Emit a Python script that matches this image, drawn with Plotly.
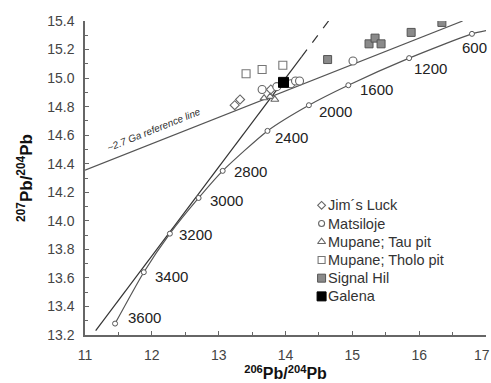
import plotly.graph_objects as go

# Pb growth curve: model ages (Ma) and their 206Pb/204Pb, 207Pb/204Pb values
growth_age = [3600, 3400, 3200, 3000, 2800, 2400, 2000, 1600, 1200, 600]
growth_x = [11.45, 11.88, 12.27, 12.70, 13.06, 13.73, 14.35, 14.94, 15.85, 16.79]
growth_y = [13.28, 13.64, 13.91, 14.16, 14.35, 14.63, 14.81, 14.95, 15.14, 15.31]
# where the curve leaves the plot on the right
growth_end_x = 17.08
growth_end_y = 15.34

# ~2.7 Ga reference line (end points)
ref_x = [11.0, 16.65]
ref_y = [14.355, 15.40]

# steep regression line (end points)
steep_x = [11.16, 14.66]
steep_y = [13.23, 15.41]

# samples
jims_x = [13.24, 13.32, 13.78]
jims_y = [14.81, 14.85, 14.92]

mats_x = [13.65, 13.87, 14.08, 14.15, 14.21, 15.01]
mats_y = [14.92, 14.94, 14.96, 14.98, 14.98, 15.12]

tau_x = [13.68, 13.77, 13.84]
tau_y = [14.86, 14.87, 14.85]

tholo_x = [13.41, 13.65, 13.96]
tholo_y = [15.03, 15.06, 15.09]

signal_x = [14.63, 15.25, 15.34, 15.43, 15.88, 16.34]
signal_y = [15.13, 15.24, 15.28, 15.24, 15.32, 15.39]

galena_x = [13.97]
galena_y = [14.97]

x_ticks = [11, 12, 13, 14, 15, 16, 17]
y_ticks = [13.2, 13.4, 13.6, 13.8, 14.0, 14.2, 14.4, 14.6, 14.8, 15.0, 15.2, 15.4]

FONT = "Liberation Sans, Arial, sans-serif"
LINE = "#555555"
MARK = "#666666"
TICKFONT = dict(family=FONT, size=14, color="#444444")

fig = go.Figure()

# reference line
fig.add_trace(go.Scatter(x=ref_x, y=ref_y, mode="lines",
                         line=dict(color=LINE, width=1.2), showlegend=False,
                         hoverinfo="skip"))

# steep line: solid lower part, dashed near the top
split = 0.88
sx_mid = steep_x[0] + split * (steep_x[1] - steep_x[0])
sy_mid = steep_y[0] + split * (steep_y[1] - steep_y[0])
fig.add_trace(go.Scatter(x=[steep_x[0], sx_mid], y=[steep_y[0], sy_mid], mode="lines",
                         line=dict(color="#333333", width=1.2), showlegend=False,
                         hoverinfo="skip"))
fig.add_trace(go.Scatter(x=[sx_mid, steep_x[1]], y=[sy_mid, steep_y[1]], mode="lines",
                         line=dict(color="#333333", width=1.2, dash="dash"),
                         showlegend=False, hoverinfo="skip"))

# growth curve
fig.add_trace(go.Scatter(x=growth_x + [growth_end_x], y=growth_y + [growth_end_y],
                         mode="lines", line=dict(color=LINE, width=1.2, shape="spline",
                                                 smoothing=0.6),
                         showlegend=False, hoverinfo="skip"))
fig.add_trace(go.Scatter(x=growth_x, y=growth_y, mode="markers",
                         marker=dict(symbol="circle", size=5, color="white",
                                     line=dict(color=LINE, width=1)),
                         showlegend=False))

# age labels beside the curve markers (pixel offsets of each label)
label_dx = [11, 9, 7, 9, 9, 6, 8, 10, 3, -12]
label_dy = [6, -4, -1, -3, -1, -7, -6, -4, -10, -14]
for a, gx, gy, dx, dy in zip(growth_age, growth_x, growth_y, label_dx, label_dy):
    fig.add_annotation(x=gx, y=gy, text=str(a), showarrow=False,
                       xanchor="left", yanchor="middle", xshift=dx, yshift=dy,
                       font=dict(family=FONT, size=15, color="#222222"))

fig.add_annotation(x=12.03, y=14.64, text="<i>~2.7 Ga reference line</i>",
                   showarrow=False, textangle=-22,
                   font=dict(family=FONT, size=10, color="#333333"))

# sample groups
groups = [
    ("Jim´s Luck", jims_x, jims_y,
     dict(symbol="diamond", size=7, color="white", line=dict(color=MARK, width=1.1))),
    ("Matsiloje", mats_x, mats_y,
     dict(symbol="circle", size=8, color="white", line=dict(color=MARK, width=1.1))),
    ("Mupane; Tau pit", tau_x, tau_y,
     dict(symbol="triangle-up", size=7, color="white", line=dict(color=MARK, width=1.1))),
    ("Mupane; Tholo pit", tholo_x, tholo_y,
     dict(symbol="square", size=8, color="white", line=dict(color="#777777", width=1.1))),
    ("Signal Hil", signal_x, signal_y,
     dict(symbol="square", size=8, color="#8a8a8a", line=dict(color="#555555", width=1))),
    ("Galena", galena_x, galena_y,
     dict(symbol="square", size=10, color="black", line=dict(color="black", width=1))),
]
for name, gx, gy, mk in groups:
    fig.add_trace(go.Scatter(x=gx, y=gy, mode="markers", name=name, marker=mk,
                             showlegend=False))

# key: symbols on an overlay axis spanning the plot area, text as annotations
key_x = 0.590
text_x = 0.601
row0 = 0.413
step = 0.058
legend_sizes = [6, 6, 7, 7, 8, 9]
for i, (name, gx, gy, mk) in enumerate(groups):
    ky = row0 - i * step
    km = dict(mk)
    km["size"] = legend_sizes[i]
    fig.add_trace(go.Scatter(x=[key_x], y=[ky], mode="markers", marker=km,
                             xaxis="x2", yaxis="y2", showlegend=False,
                             hoverinfo="skip"))
    fig.add_annotation(x=text_x, y=ky, xref="paper", yref="paper", text=name,
                       showarrow=False, xanchor="left", yanchor="middle",
                       font=dict(family=FONT, size=14.5, color="#333333"))

# the last x tick label sits at the page edge, so it is placed as an annotation
# nudged inward to stay on the page
x_ticktext = [str(v) for v in x_ticks]
last_label = x_ticktext[-1]
x_ticktext[-1] = ""
fig.add_annotation(x=x_ticks[-1], y=0, xref="x", yref="paper", text=last_label,
                   showarrow=False, xanchor="center", yanchor="top",
                   xshift=-4, yshift=-10,
                   font=TICKFONT)

axis_common = dict(showgrid=False, zeroline=False, showline=True, linecolor="#666666",
                   linewidth=1.5, ticks="inside", ticklen=4, tickcolor="#666666",
                   tickwidth=1, tickfont=TICKFONT)

fig.update_layout(
    width=491, height=383,
    margin=dict(l=85, r=5, t=21, b=38),
    paper_bgcolor="white", plot_bgcolor="white",
    showlegend=False,
    xaxis=dict(range=[11, 17], tickvals=x_ticks, ticktext=x_ticktext,
               minor=dict(ticks="inside", ticklen=3, dtick=0.5, tickcolor="#666666"),
               title=dict(text="<b><sup>206</sup>Pb/<sup>204</sup>Pb</b>",
                          font=dict(family=FONT, size=16, color="#111111"), standoff=4),
               ticklabelstandoff=6, **axis_common),
    yaxis=dict(range=[13.2, 15.4], tickvals=y_ticks,
               ticktext=[f"{v:.1f}" for v in y_ticks],
               minor=dict(ticks="inside", ticklen=3, dtick=0.1, tickcolor="#666666"),
               title=dict(text="<b><sup>207</sup>Pb/<sup>204</sup>Pb</b>",
                          font=dict(family=FONT, size=17, color="#111111"), standoff=10),
               ticklabelstandoff=6, **axis_common),
    xaxis2=dict(overlaying="x", range=[0, 1], visible=False),
    yaxis2=dict(overlaying="y", range=[0, 1], visible=False),
)

fig.write_html("out.html")
